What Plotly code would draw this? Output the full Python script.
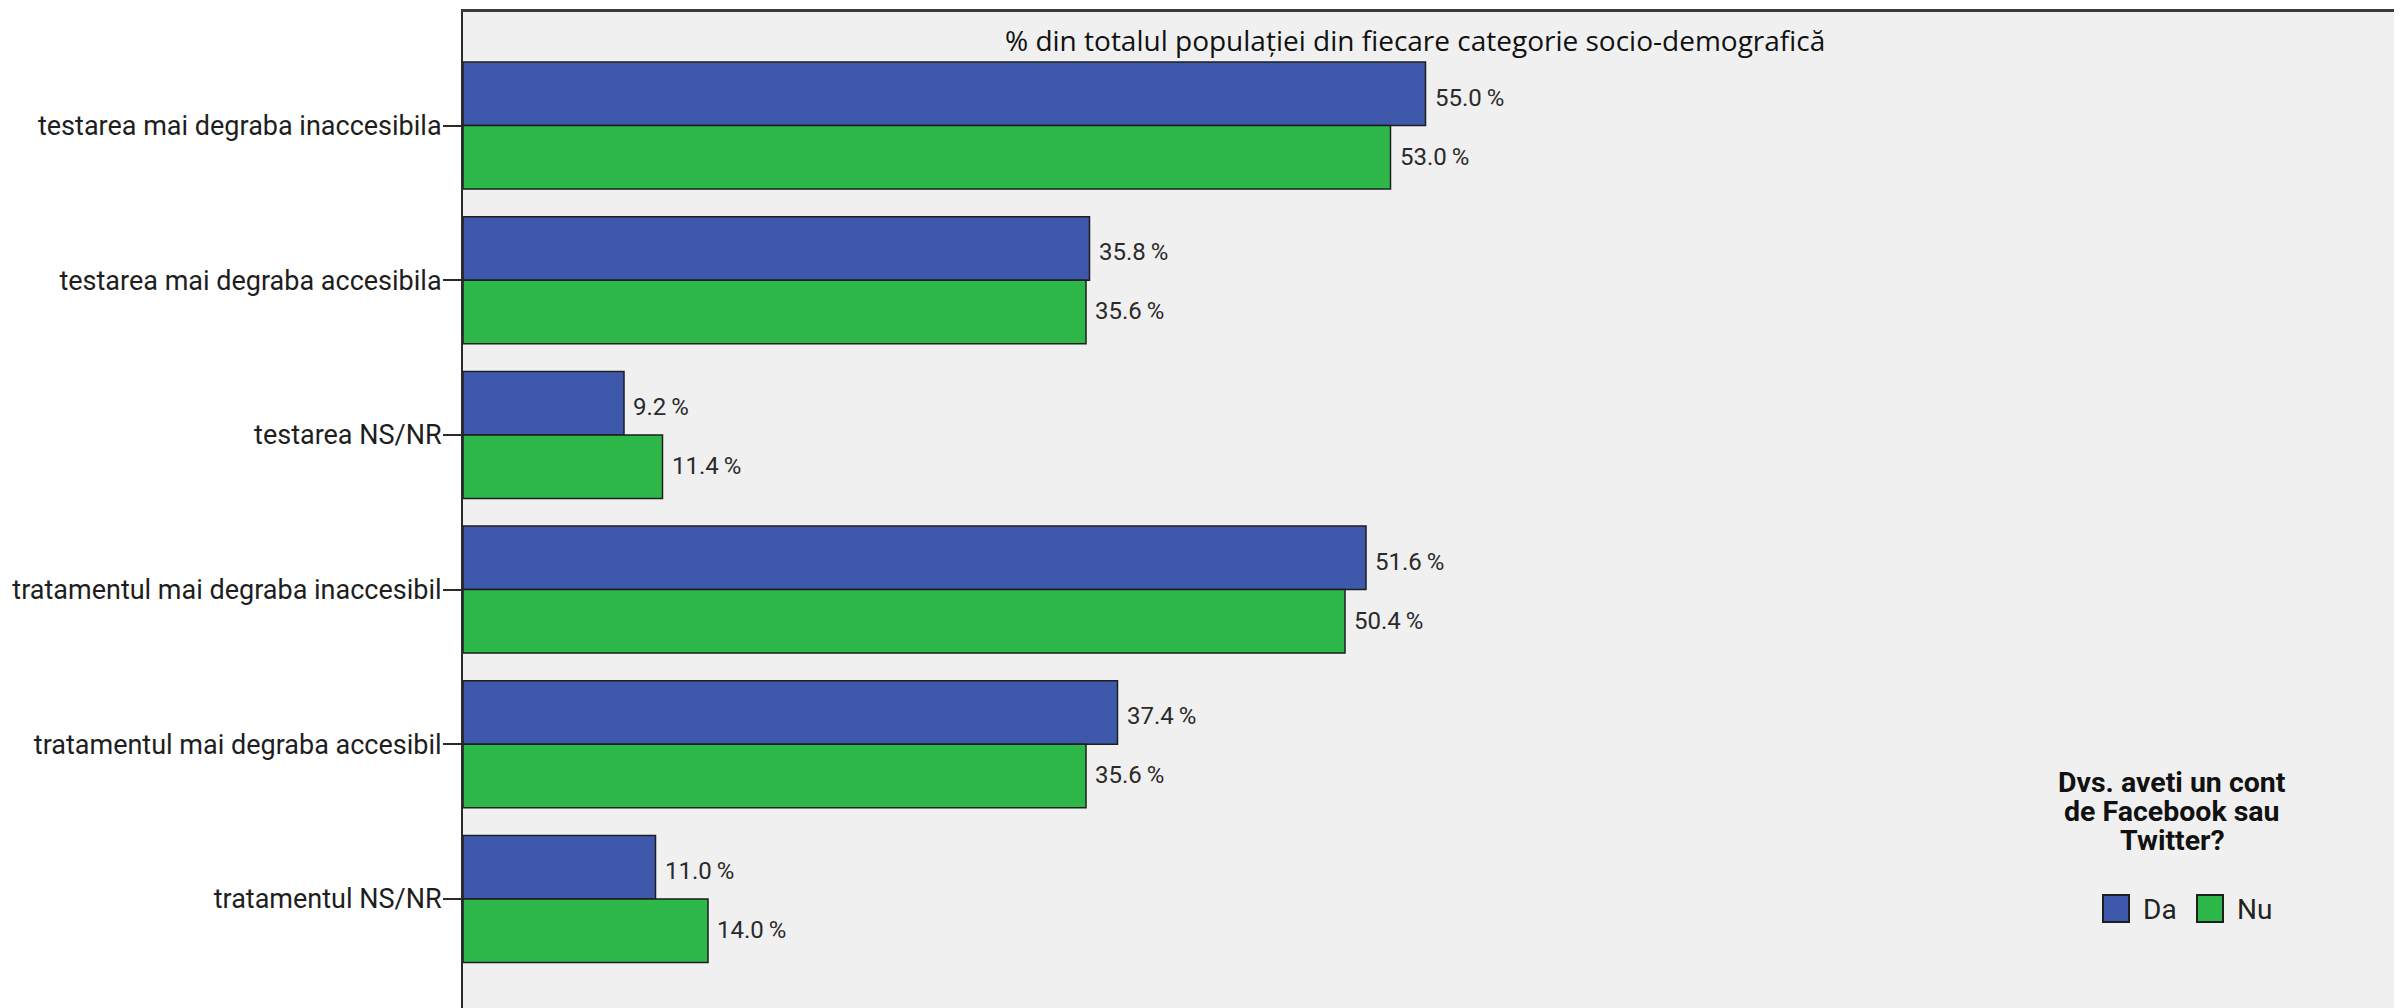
import plotly.graph_objects as go

categories = [
    "testarea mai degraba inaccesibila",
    "testarea mai degraba accesibila",
    "testarea NS/NR",
    "tratamentul mai degraba inaccesibil",
    "tratamentul mai degraba accesibil",
    "tratamentul NS/NR",
]
da_values = [55.0, 35.8, 9.2, 51.6, 37.4, 11.0]
nu_values = [53.0, 35.6, 11.4, 50.4, 35.6, 14.0]
series_names = ["Da", "Nu"]
legend_title_lines = ["Dvs. aveti un cont", "de Facebook sau", "Twitter?"]
chart_title = "% din totalul populației din fiecare categorie socio-demografică"

BLUE = "#3E58AC"
GREEN = "#2EB84A"
OFF = 8  # page body margin
W, H = 2402 - OFF, 1008 - OFF
L, T = 463 - OFF, 12 - OFF
PW, PH = W - L, H - T


def px(xs):
    return (xs - OFF - L) / PW


def py(ys):
    return 1 - (ys - OFF - T) / PH


fig = go.Figure()
for name, vals, col in [(series_names[0], da_values, BLUE), (series_names[1], nu_values, GREEN)]:
    fig.add_trace(go.Bar(
        y=categories, x=vals, orientation="h", name=name,
        marker=dict(color=col, line=dict(color="#1e1e1e", width=1.5)),
        showlegend=False, hoverinfo="x+y",
    ))

annotations = []
for vals, ys in [(da_values, 28), (nu_values, -31)]:
    for c, v in zip(categories, vals):
        annotations.append(dict(
            x=v, y=c, xref="x", yref="y", text=f"{v:.1f}\u2009%",
            showarrow=False, xanchor="left", yanchor="middle",
            xshift=7, yshift=ys,
            font=dict(family="Roboto", size=24, color="#2a2a2a"),
        ))

# title
annotations.append(dict(
    x=px(1415), y=py(40), xref="paper", yref="paper",
    text=chart_title, showarrow=False, xanchor="center", yanchor="middle",
    font=dict(family="Open Sans", size=28, color="#111111"),
))

# legend title lines
for i, line in enumerate(legend_title_lines):
    cy = 782 + i * 29
    annotations.append(dict(
        x=px(2172), y=py(cy), xref="paper", yref="paper",
        text=f"<b>{line}</b>", showarrow=False, xanchor="center", yanchor="middle",
        font=dict(family="Roboto", size=28.5, color="#111111"),
    ))

shapes = []
legend_items = [(series_names[0], BLUE, 2103), (series_names[1], GREEN, 2197)]
for name, col, x0 in legend_items:
    shapes.append(dict(
        type="rect", xref="paper", yref="paper",
        x0=px(x0), x1=px(x0 + 26), y0=py(922), y1=py(895),
        fillcolor=col, line=dict(color="#1e1e1e", width=2),
    ))
    annotations.append(dict(
        x=px(x0 + 38), y=py(909), xref="paper", yref="paper",
        text=name, showarrow=False, xanchor="left", yanchor="middle",
        font=dict(family="Roboto", size=28, color="#222222"),
    ))

fig.update_layout(
    width=W, height=H,
    margin=dict(l=L, r=0, t=T, b=0, pad=0, autoexpand=False),
    paper_bgcolor="white", plot_bgcolor="#F0F0F0",
    barmode="group", bargap=0.179, bargroupgap=0,
    annotations=annotations, shapes=shapes,
    xaxis=dict(range=[0, (2402 - 463) / 17.5], side="top", showline=True, linecolor="#3a3a3a",
               linewidth=3, showgrid=False, zeroline=False, showticklabels=False,
               ticks="", fixedrange=True, automargin=False),
    yaxis=dict(type="category", categoryarray=categories, categoryorder="array",
               range=[5.705, -0.734], showline=True, linecolor="#2a2a2a", linewidth=2,
               ticks="outside", ticklen=18, tickwidth=2, tickcolor="#2a2a2a",
               ticklabelstandoff=-4,
               showgrid=False, zeroline=False, automargin=False,
               tickfont=dict(family="Roboto", size=27, color="#1e1e1e")),
)

fig.write_html("out.html")
